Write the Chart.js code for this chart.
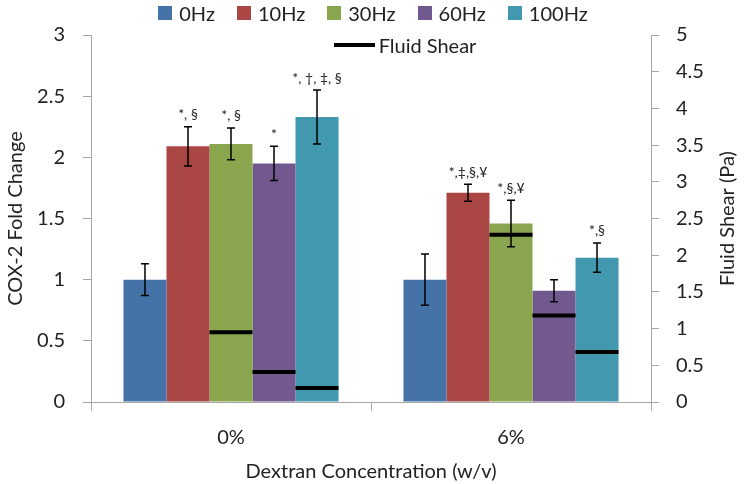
<!DOCTYPE html>
<html>
<head>
<meta charset="utf-8">
<script src="https://cdn.jsdelivr.net/npm/chart.js@4.4.1/dist/chart.umd.min.js"></script>
<style>
  body { margin: 0; background: #fff; font-family: Lato, sans-serif; }
  #wrap { position: relative; width: 746px; height: 484px; }
  .legend { position: absolute; left: 0; width: 746px; display: flex; justify-content: center; font-size: 20px; color: #222; }
  .legend .item { display: flex; align-items: center; margin: 0 11px; }
  .legend .box { width: 14px; height: 14px; margin-right: 7px; }
  .legend .line { width: 41px; height: 4px; background: #000; margin-right: 4px; }
</style>
</head>
<body>
<div id="wrap">
  <canvas id="my-chart" width="746" height="484"></canvas>
  <div class="legend" id="legend1" style="top: 1px; padding-right: 20px;"></div>
  <div class="legend" id="legend2" style="top: 33px; padding-left: 32px;"></div>
</div>
<script>
// data
const categories = ['0%', '6%']
const freqLabels = ['0Hz', '10Hz', '30Hz', '60Hz', '100Hz']
const colors = ['#4572A7', '#AA4643', '#89A54E', '#71588F', '#4198AF']

const hz0 = [1.00, 1.00]
const hz10 = [2.09, 1.71]
const hz30 = [2.11, 1.46]
const hz60 = [1.95, 0.91]
const hz100 = [2.33, 1.18]

const err0 = [0.13, 0.21]
const err10 = [0.16, 0.07]
const err30 = [0.13, 0.19]
const err60 = [0.14, 0.09]
const err100 = [0.22, 0.12]

// fluid shear in Pa (right axis)
const shear0 = [null, null]
const shear10 = [null, null]
const shear30 = [0.95, 2.28]
const shear60 = [0.41, 1.18]
const shear100 = [0.19, 0.68]

const notes0 = ['', '']
const notes10 = ['*, §', '*,‡,§,¥']
const notes30 = ['*, §', '*,§,¥']
const notes60 = ['*', '']
const notes100 = ['*, †, ‡, §', '*,§']

const yTicks = [0, 0.5, 1, 1.5, 2, 2.5, 3]
const y1Ticks = [0, 0.5, 1, 1.5, 2, 2.5, 3, 3.5, 4, 4.5, 5]

const series = [hz0, hz10, hz30, hz60, hz100]
const errors = [err0, err10, err30, err60, err100]
const shears = [shear0, shear10, shear30, shear60, shear100]
const notes = [notes0, notes10, notes30, notes60, notes100]

// html legend
const legend1 = document.getElementById('legend1')
freqLabels.forEach((label, i) => {
  legend1.innerHTML += '<div class="item"><div class="box" style="background:' + colors[i] + '"></div>' + label + '</div>'
})
document.getElementById('legend2').innerHTML = '<div class="item"><div class="line"></div>Fluid Shear</div>'

// error bars, shear lines and significance marks
const extras = {
  id: 'extras',
  afterDatasetsDraw(chart) {
    const ctx = chart.ctx
    const y = chart.scales.y
    const y1 = chart.scales.y1
    ctx.save()
    series.forEach((vals, i) => {
      const meta = chart.getDatasetMeta(i)
      meta.data.forEach((bar, j) => {
        const half = bar.width / 2
        // shear
        if (shears[i][j] != null) {
          const sy = y1.getPixelForValue(shears[i][j])
          ctx.strokeStyle = '#000'
          ctx.lineWidth = 4
          ctx.beginPath()
          ctx.moveTo(bar.x - half, sy)
          ctx.lineTo(bar.x + half, sy)
          ctx.stroke()
        }
        // error bar
        const top = y.getPixelForValue(vals[j] + errors[i][j])
        const bot = y.getPixelForValue(vals[j] - errors[i][j])
        ctx.strokeStyle = '#000'
        ctx.lineWidth = 1.5
        ctx.beginPath()
        ctx.moveTo(bar.x, top)
        ctx.lineTo(bar.x, bot)
        ctx.moveTo(bar.x - 4, top)
        ctx.lineTo(bar.x + 4, top)
        ctx.moveTo(bar.x - 4, bot)
        ctx.lineTo(bar.x + 4, bot)
        ctx.stroke()
        // notes
        if (notes[i][j]) {
          ctx.fillStyle = '#222'
          ctx.font = '14px Lato'
          ctx.textAlign = 'center'
          ctx.textBaseline = 'bottom'
          ctx.fillText(notes[i][j], bar.x, top - 5)
        }
      })
    })
    // right axis title reads bottom to top
    ctx.translate(728, (chart.chartArea.top + chart.chartArea.bottom) / 2)
    ctx.rotate(-Math.PI / 2)
    ctx.fillStyle = '#222'
    ctx.font = '20px Lato'
    ctx.textAlign = 'center'
    ctx.textBaseline = 'middle'
    ctx.fillText('Fluid Shear (Pa)', 0, 0)
    ctx.restore()
  }
}

const data = {
  labels: categories,
  datasets: series.map((vals, i) => ({
    label: freqLabels[i],
    data: vals,
    backgroundColor: colors[i],
    yAxisID: 'y',
    categoryPercentage: 0.768,
    barPercentage: 1.0,
  }))
}

const axisGray = '#A6A6A6'
const tickFont = { family: 'Lato', size: 20 }

const options = {
  responsive: false,
  animation: false,
  layout: { padding: { top: 35, left: 0, right: 0, bottom: 0 } },
  plugins: {
    legend: { display: false },
    tooltip: { enabled: false },
  },
  scales: {
    x: {
      grid: { offset: true, drawOnChartArea: false, tickLength: 9, color: axisGray },
      border: { color: axisGray },
      ticks: { color: '#222', font: tickFont, padding: 15 },
      title: { display: true, text: 'Dextran Concentration (w/v)', color: '#222', font: tickFont, padding: { top: 0, bottom: 0 } },
      afterFit: (scale) => { scale.height = 82 },
    },
    y: {
      position: 'left',
      min: 0,
      max: 3,
      afterBuildTicks: (scale) => { scale.ticks = yTicks.map(v => ({ value: v })) },
      grid: { drawOnChartArea: false, tickLength: 8, color: axisGray },
      border: { color: axisGray },
      ticks: { color: '#222', font: tickFont, padding: 18, callback: (v) => String(v) },
      title: { display: true, text: 'COX-2 Fold Change', color: '#222', font: tickFont, padding: { top: 4, bottom: 0 } },
      afterFit: (scale) => { scale.width = 91 },
    },
    y1: {
      position: 'right',
      min: 0,
      max: 5,
      afterBuildTicks: (scale) => { scale.ticks = y1Ticks.map(v => ({ value: v })) },
      grid: { drawOnChartArea: false, tickLength: 8, color: axisGray },
      border: { color: axisGray },
      ticks: { color: '#222', font: tickFont, padding: 17, callback: (v) => String(v) },
      afterFit: (scale) => { scale.width = 95 },
    },
  },
}

const ctx = document.getElementById('my-chart').getContext('2d')
const myChart = new Chart(ctx, {
  type: 'bar',
  data: data,
  options: options,
  plugins: [extras],
})
</script>
</body>
</html>
